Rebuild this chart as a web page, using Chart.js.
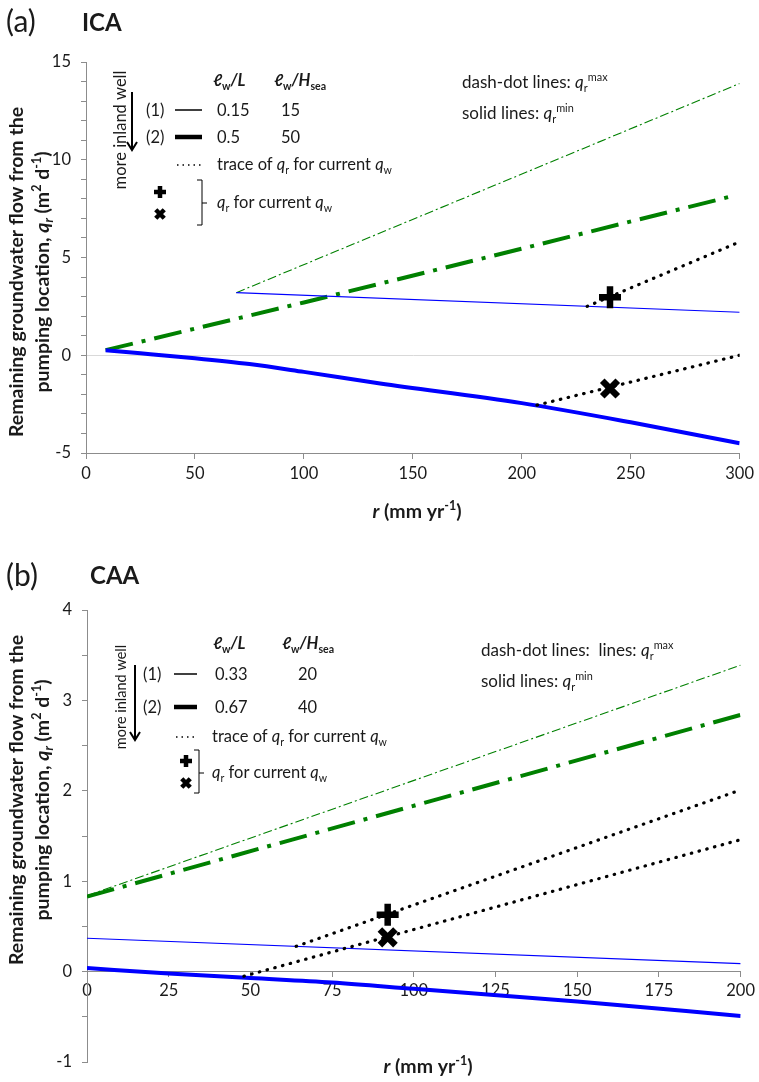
<!DOCTYPE html>
<html>
<head>
<meta charset="utf-8">
<script src="https://cdn.jsdelivr.net/npm/chart.js@4.4.0/dist/chart.umd.min.js"></script>
<style>
  html, body { margin: 0; padding: 0; background: #fff; }
  canvas { display: block; }
</style>
</head>
<body>
<canvas id="ca" width="759" height="530"></canvas>
<canvas id="cb" width="759" height="552"></canvas>
<script>
// Remaining groundwater flow q_r vs recharge r, panels (a) ICA and (b) CAA

const FONT = 'Lato, "Open Sans", sans-serif';
const INK = '#1a1a1a';
const AXIS = '#8c8c8c';
const GREEN = '#008000';
const BLUE = '#0000ff';

// ---- panel (a) ICA ----
const aTicksX = [0, 50, 100, 150, 200, 250, 300];
const aThinMaxR = [69, 300];
const aThinMaxQ = [3.2, 13.9];
const aThinMinR = [69, 300];
const aThinMinQ = [3.2, 2.2];
const aThickMaxR = [9, 100, 200, 297];
const aThickMaxQ = [0.26, 2.7, 5.45, 8.15];
const aThickMinR = [9, 25, 50, 75, 100, 135, 200, 250, 300];
const aThickMinQ = [0.25, 0.1, -0.15, -0.45, -0.85, -1.44, -2.45, -3.43, -4.5];
const aTraceUpR = [230, 299];
const aTraceUpQ = [2.5, 5.75];
const aTraceLowR = [207, 300];
const aTraceLowQ = [-2.55, 0.0];
const aPlus = [240.5, 2.97];
const aCross = [240.5, -1.7];

// ---- panel (b) CAA ----
const bTicksX = [0, 25, 50, 75, 100, 125, 150, 175, 200];
const bThinMaxR = [0, 200];
const bThinMaxQ = [0.84, 3.39];
const bThickMaxR = [0, 200];
const bThickMaxQ = [0.83, 2.84];
const bThinMinR = [0, 200];
const bThinMinQ = [0.37, 0.09];
const bThickMinR = [0, 25, 50, 75, 100, 150, 200];
const bThickMinQ = [0.04, -0.02, -0.07, -0.12, -0.19, -0.33, -0.49];
const bTraceUpR = [64, 200];
const bTraceUpQ = [0.28, 2.01];
const bTraceLowR = [48, 200];
const bTraceLowQ = [-0.05, 1.46];
const bPlus = [92, 0.63];
const bCross = [92, 0.38];

function pts(rs, qs) {
  return rs.map((r, i) => ({ x: r, y: qs[i] }));
}

function line(rs, qs, color, width, dash, cap, smooth) {
  return {
    data: pts(rs, qs), showLine: true, fill: false,
    tension: smooth ? 0.4 : 0, cubicInterpolationMode: smooth ? 'monotone' : 'default',
    borderColor: color, borderWidth: width, borderDash: dash || [],
    borderCapStyle: cap || 'butt', pointRadius: 0, pointHoverRadius: 0
  };
}

function marker(p, style) {
  return {
    data: [{ x: p[0], y: p[1] }], showLine: false,
    pointStyle: style, pointRadius: 11, pointHoverRadius: 11,
    pointBorderWidth: 6.5, pointBorderColor: '#000', pointBackgroundColor: '#000'
  };
}

// rich text: parts = [text, flags], flags B bold, I italic, _ sub, ^ sup
function fontOf(flags, size) {
  const small = flags.includes('_') || flags.includes('^');
  const s = small ? size * 0.64 : size;
  return (flags.includes('I') ? 'italic ' : '') + (flags.includes('B') ? 'bold ' : '') + s.toFixed(1) + 'px ' + FONT;
}

function rich(c, x, y, parts, size, align) {
  const widths = parts.map(p => { c.font = fontOf(p[1] || '', size); return c.measureText(p[0]).width; });
  const total = widths.reduce((a, b) => a + b, 0);
  let cx = align === 'center' ? x - total / 2 : x;
  c.textAlign = 'left';
  c.textBaseline = 'alphabetic';
  parts.forEach((p, i) => {
    const f = p[1] || '';
    c.font = fontOf(f, size);
    let dy = 0;
    if (f.includes('_')) dy = size * 0.22;
    if (f.includes('^')) dy = -size * 0.4;
    c.fillText(p[0], cx, y + dy);
    cx += widths[i];
  });
}

function hline(c, x1, x2, y, w) {
  c.beginPath(); c.lineWidth = w; c.moveTo(x1, y); c.lineTo(x2, y); c.stroke();
}

function arrow(c, x, y1, y2) {
  c.lineWidth = 2;
  c.beginPath(); c.moveTo(x, y1); c.lineTo(x, y2 - 1); c.stroke();
  c.beginPath(); c.moveTo(x - 5, y2 - 8); c.lineTo(x, y2); c.lineTo(x + 5, y2 - 8); c.stroke();
}

function plusMark(c, x, y, s, rot) {
  c.save(); c.translate(x, y); if (rot) c.rotate(Math.PI / 4);
  c.lineWidth = 4.5;
  c.beginPath(); c.moveTo(-s, 0); c.lineTo(s, 0); c.moveTo(0, -s); c.lineTo(0, s); c.stroke();
  c.restore();
}

function bracket(c, x, y1, y2, ym) {
  c.lineWidth = 1;
  c.beginPath();
  c.moveTo(x - 5, y1); c.lineTo(x, y1); c.lineTo(x, y2); c.lineTo(x - 5, y2);
  c.moveTo(x, ym); c.lineTo(x + 5, ym);
  c.stroke();
}

function rotText(c, x, y, parts, size) {
  c.save(); c.translate(x, y); c.rotate(-Math.PI / 2);
  rich(c, 0, 0, parts, size, 'center');
  c.restore();
}

function yTitle(c, x, y) {
  c.save(); c.translate(x, y); c.rotate(-Math.PI / 2);
  rich(c, 0, 0, [['Remaining groundwater flow from the', 'B']], 19.5, 'center');
  rich(c, 0, 26, [['pumping location, ', 'B'], ['q', 'BI'], ['r', 'BI_'], [' (m', 'B'], ['2', 'B^'], [' d', 'B'], ['-1', 'B^'], [')', 'B']], 19.5, 'center');
  c.restore();
}

function legend(c, o) {
  c.fillStyle = INK; c.strokeStyle = '#000';
  rich(c, o.colL, o.hdr, [['ℓ', 'BI'], ['w', 'B_'], ['/L', 'BI']], 16.5);
  rich(c, o.colH, o.hdr, [['ℓ', 'BI'], ['w', 'B_'], ['/H', 'BI'], ['sea', 'B_']], 16.5);
  rich(c, o.num, o.r1, [['(1)', '']], 16.5);
  rich(c, o.num, o.r2, [['(2)', '']], 16.5);
  hline(c, o.l1, o.l2, o.r1 - 6, 1.5);
  hline(c, o.l1, o.l2, o.r2 - 6, 4.5);
  rich(c, o.v1x, o.r1, [[o.v1, '']], 16.5);
  rich(c, o.v2x, o.r1, [[o.v2, '']], 16.5);
  rich(c, o.v1x, o.r2, [[o.v3, '']], 16.5);
  rich(c, o.v2x, o.r2, [[o.v4, '']], 16.5);
  // dotted sample
  c.save(); c.setLineDash([1.5, 4]); hline(c, o.l1 + 2, o.l2, o.tr - 5, 1.5); c.restore();
  rich(c, o.txt, o.tr, [['trace of ', ''], ['q', 'I'], ['r', '_'], [' for current ', ''], ['q', 'I'], ['w', '_']], 16.5);
  plusMark(c, o.mx, o.py, 6, false);
  plusMark(c, o.mx, o.cy, 6, true);
  bracket(c, o.bx, o.b1, o.b2, o.bm);
  rich(c, o.txt, o.bm + 5, [['q', 'I'], ['r', '_'], [' for current ', ''], ['q', 'I'], ['w', '_']], 16.5);
  arrow(c, o.ax, o.a1, o.a2);
  rotText(c, o.wx, o.wy, [['more inland well', '']], o.ws);
  rich(c, o.rx, o.rt1, [['dash-dot lines: ' + o.extra, ''], ['q', 'I'], ['r', '_'], ['max', '^']], 17);
  rich(c, o.rx, o.rt2, [['solid lines: ', ''], ['q', 'I'], ['r', '_'], ['min', '^']], 17);
}

const notesA = {
  id: 'notesA',
  afterDraw(chart) {
    const c = chart.ctx;
    c.save();
    c.fillStyle = INK;
    rich(c, 6, 32, [['(a)', '']], 30);
    rich(c, 82, 31, [['ICA', 'B']], 24);
    legend(c, {
      colL: 213, colH: 274, hdr: 86, num: 146, r1: 116, r2: 143,
      l1: 175, l2: 202, v1x: 217, v2x: 281, v1: '0.15', v2: '15', v3: '0.5', v4: '50',
      tr: 170, txt: 217, mx: 160, py: 192, cy: 214, bx: 202, b1: 180, b2: 225, bm: 203,
      ax: 132, a1: 92, a2: 150, wx: 126, wy: 130, ws: 16.5,
      rx: 462, rt1: 88, rt2: 119, extra: ''
    });
    yTitle(c, 23, 272);
    rich(c, 417, 518, [['r', 'BI'], [' (mm yr', 'B'], ['-1', 'B^'], [')', 'B']], 19.5, 'center');
    c.restore();
  }
};

const notesB = {
  id: 'notesB',
  afterDraw(chart) {
    const c = chart.ctx;
    c.save();
    c.fillStyle = INK;
    rich(c, 6, 56, [['(b)', '']], 30);
    rich(c, 90, 54, [['CAA', 'B']], 24);
    legend(c, {
      colL: 213, colH: 282, hdr: 119, num: 143, r1: 150, r2: 183,
      l1: 174, l2: 197, v1x: 215, v2x: 298, v1: '0.33', v2: '20', v3: '0.67', v4: '40',
      tr: 212, txt: 212, mx: 186, py: 231, cy: 253, bx: 199, b1: 220, b2: 263, bm: 243,
      ax: 135, a1: 135, a2: 210, wx: 126, wy: 167, ws: 14.5,
      rx: 481, rt1: 126, rt2: 157, extra: ' lines: '
    });
    yTitle(c, 23, 270);
    rich(c, 428, 543, [['r', 'BI'], [' (mm yr', 'B'], ['-1', 'B^'], [')', 'B']], 19.5, 'center');
    c.restore();
  }
};

const tickFont = { family: FONT, size: 16.5 };
const isInt = v => Math.abs(v - Math.round(v)) < 1e-6;

new Chart(document.getElementById('ca'), {
  type: 'scatter',
  data: {
    datasets: [
      marker(aPlus, 'cross'),
      marker(aCross, 'crossRot'),
      line(aTraceUpR, aTraceUpQ, '#000', 3.2, [0.5, 7.5], 'round'),
      line(aTraceLowR, aTraceLowQ, '#000', 3.2, [0.5, 7.5], 'round'),
      line(aThinMinR, aThinMinQ, BLUE, 1.2),
      line(aThickMinR, aThickMinQ, BLUE, 4, null, null, true),
      line(aThinMaxR, aThinMaxQ, GREEN, 1.1, [9, 3, 2, 3]),
      line(aThickMaxR, aThickMaxQ, GREEN, 4, [28, 9, 4, 9])
    ]
  },
  options: {
    responsive: false,
    animation: false,
    layout: { padding: { left: 0, right: 19, top: 62, bottom: 37 } },
    plugins: { legend: { display: false }, tooltip: { enabled: false } },
    scales: {
      x: {
        type: 'linear', min: 0, max: 300,
        afterFit: s => { s.height = 40; },
        afterBuildTicks: s => { s.ticks = aTicksX.map(v => ({ value: v })); },
        ticks: { color: INK, font: tickFont, padding: 5 },
        grid: { color: 'transparent', tickColor: AXIS, tickLength: 6 },
        border: { color: AXIS }
      },
      y: {
        type: 'linear', min: -5, max: 15,
        afterFit: s => { s.width = 86; },
        ticks: {
          stepSize: 1, autoSkip: false, maxTicksLimit: 100, color: INK, font: tickFont, padding: 10,
          callback: v => (isInt(v / 5) ? v : '')
        },
        grid: {
          color: ctx => (ctx.tick && ctx.tick.value === 0 ? '#d9d9d9' : 'transparent'),
          tickColor: AXIS, tickLength: 5
        },
        border: { color: AXIS }
      }
    }
  },
  plugins: [notesA]
});

new Chart(document.getElementById('cb'), {
  type: 'scatter',
  data: {
    datasets: [
      marker(bPlus, 'cross'),
      marker(bCross, 'crossRot'),
      line(bTraceUpR, bTraceUpQ, '#000', 3.2, [0.5, 7.5], 'round'),
      line(bTraceLowR, bTraceLowQ, '#000', 3.2, [0.5, 7.5], 'round'),
      line(bThinMinR, bThinMinQ, BLUE, 1.2),
      line(bThickMinR, bThickMinQ, BLUE, 4, null, null, true),
      line(bThinMaxR, bThinMaxQ, GREEN, 1.1, [9, 3, 2, 3]),
      line(bThickMaxR, bThickMaxQ, GREEN, 4, [28, 9, 4, 9])
    ]
  },
  options: {
    responsive: false,
    animation: false,
    layout: { padding: { left: 0, right: 13, top: 80, bottom: 13 } },
    plugins: { legend: { display: false }, tooltip: { enabled: false } },
    scales: {
      x: {
        type: 'linear', min: 0, max: 200, position: { y: 0 },
        afterBuildTicks: s => { s.ticks = bTicksX.map(v => ({ value: v })); },
        ticks: { color: INK, font: tickFont, padding: 4 },
        grid: { color: 'transparent', tickColor: AXIS, tickLength: 5 },
        border: { color: AXIS }
      },
      y: {
        type: 'linear', min: -1, max: 4,
        afterFit: s => { s.width = 87; },
        ticks: {
          stepSize: 0.5, autoSkip: false, maxTicksLimit: 100, color: INK, font: tickFont, padding: 10,
          callback: v => (isInt(v) ? v : '')
        },
        grid: { color: 'transparent', tickColor: AXIS, tickLength: 5 },
        border: { color: AXIS }
      }
    }
  },
  plugins: [notesB]
});
</script>
</body>
</html>
